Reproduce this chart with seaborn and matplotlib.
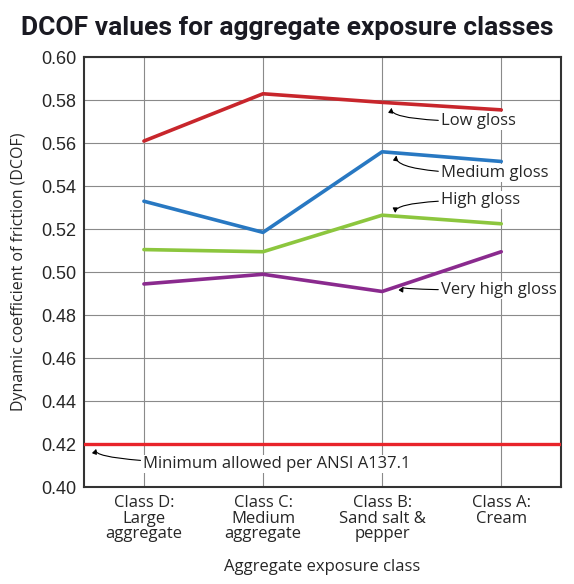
import pandas as pd
import numpy as np
import matplotlib
matplotlib.use("Agg")
import matplotlib.pyplot as plt
import seaborn as sns

# data
classes = ["Class D:\nLarge\naggregate", "Class C:\nMedium\naggregate",
           "Class B:\nSand salt &\npepper", "Class A:\nCream"]
low_gloss = [0.561, 0.583, 0.579, 0.5755]
medium_gloss = [0.533, 0.5185, 0.556, 0.5515]
high_gloss = [0.5105, 0.5095, 0.5265, 0.5225]
very_high_gloss = [0.4945, 0.499, 0.491, 0.5095]
minimum_ansi = 0.42
series_names = ["Low gloss", "Medium gloss", "High gloss", "Very high gloss"]
colors = ["#c8262c", "#2878c2", "#8cc63e", "#8a2a8e"]

rows = []
for name, vals in zip(series_names, [low_gloss, medium_gloss, high_gloss, very_high_gloss]):
    for c, v in zip(classes, vals):
        rows.append({"cls": c, "dcof": v, "gloss": name})
df = pd.DataFrame(rows)

sns.set_style("white")
plt.rcParams['font.family'] = ['Open Sans', 'DejaVu Sans']

fig = plt.figure(figsize=(5.74, 5.84), dpi=100)
ax = fig.add_axes([0.147, 0.166, 0.830, 0.736])

sns.lineplot(data=df, x="cls", y="dcof", hue="gloss", hue_order=series_names,
             palette=colors, linewidth=2.6, legend=False, ax=ax, sort=False)

ax.axhline(minimum_ansi, color="#e8242a", linewidth=2.4, zorder=3)

ax.set_xlim(-0.5, 3.5)
ax.set_ylim(0.40, 0.60)
ax.set_yticks(np.arange(0.40, 0.601, 0.02))
ax.set_yticklabels([f"{t:.2f}" for t in np.arange(0.40, 0.601, 0.02)],
                   family="Liberation Sans", fontsize=13)
ax.set_xticks(range(len(classes)))
ax.set_xticklabels(classes, fontsize=12, linespacing=0.95)
ax.tick_params(axis="both", length=0, pad=6)
ax.grid(True, color="#8a8a8a", linewidth=0.8)
ax.set_axisbelow(True)
for s in ax.spines.values():
    s.set_color("#333333")
    s.set_linewidth(1.5)

ax.set_xlabel("Aggregate exposure class", fontsize=12, labelpad=12)
ax.set_ylabel("Dynamic coefficient of friction (DCOF)", fontsize=11.5, labelpad=10)

fig.suptitle("DCOF values for aggregate exposure classes", x=0.50, y=0.972,
             fontweight="bold", color="#1a1a22", family="Roboto", fontsize=19)

arrow = dict(arrowstyle="-|>", color="black", lw=0.8, mutation_scale=7,
             shrinkA=1, shrinkB=0)
# label text, arrow tip, text anchor, connection
notes = [
    ("Low gloss", (2.08, 0.5765), (2.49, 0.5702), "angle3,angleA=0,angleB=80"),
    ("Medium gloss", (2.12, 0.5543), (2.49, 0.5460), "angle3,angleA=0,angleB=80"),
    ("High gloss", (2.11, 0.5275), (2.49, 0.5335), "angle3,angleA=0,angleB=90"),
    ("Very high gloss", (2.18, 0.4933), (2.49, 0.4916), "angle3,angleA=0,angleB=60"),
    ("Minimum allowed per ANSI A137.1", (-0.40, 0.4178), (-0.01, 0.4107), "angle3,angleA=0,angleB=70"),
]
for txt, tip, pos, cs in notes:
    ax.annotate(txt, xy=tip, xytext=pos, fontsize=12, va="center", ha="left",
                arrowprops=dict(arrow, connectionstyle=cs),
                bbox=dict(boxstyle="square,pad=0.05", fc="white", ec="none"))

fig.savefig("out.png", dpi=100)
